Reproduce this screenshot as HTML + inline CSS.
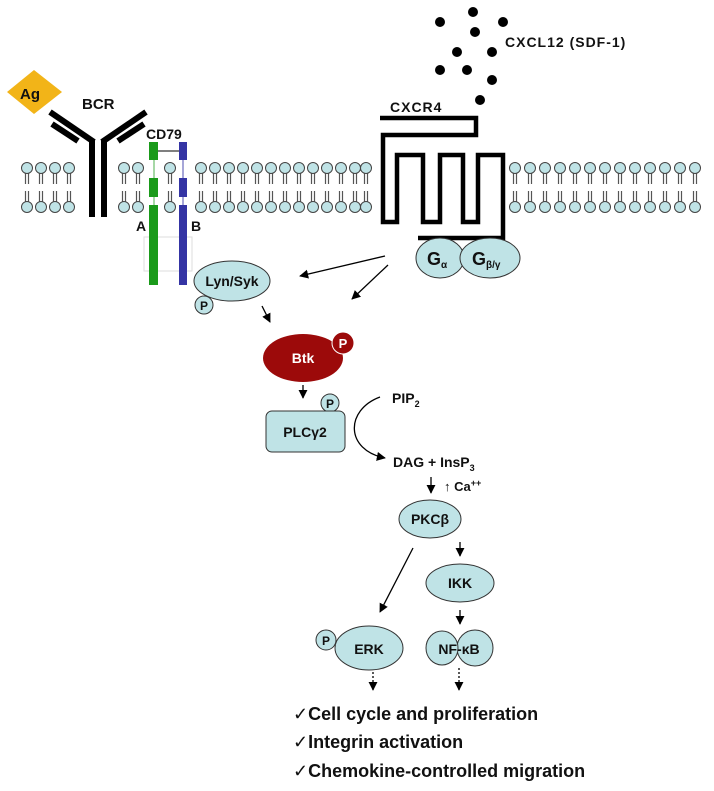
<!DOCTYPE html>
<html><head><meta charset="utf-8"><style>
html,body{margin:0;padding:0;background:#fff}
svg{display:block}
text{font-family:"Liberation Sans",Arial,sans-serif;font-weight:bold;fill:#111}
</style></head><body>
<svg width="714" height="791" viewBox="0 0 714 791" xmlns="http://www.w3.org/2000/svg">
<defs>
<marker id="ah" viewBox="0 0 10 10" refX="9" refY="5" markerWidth="7" markerHeight="7" orient="auto"><path d="M0,0L10,5L0,10z" fill="#000"/></marker>
<g id="lipT"><line x1="-1.5" y1="173" x2="-1.5" y2="184" stroke="#555" stroke-width="1.2"/><line x1="1.5" y1="173" x2="1.5" y2="184" stroke="#555" stroke-width="1.2"/><circle cx="0" cy="168" r="5.5" fill="#bfe3e6" stroke="#444" stroke-width="1"/></g>
<g id="lipB"><line x1="-1.5" y1="191" x2="-1.5" y2="202" stroke="#555" stroke-width="1.2"/><line x1="1.5" y1="191" x2="1.5" y2="202" stroke="#555" stroke-width="1.2"/><circle cx="0" cy="207" r="5.5" fill="#bfe3e6" stroke="#444" stroke-width="1"/></g>
</defs>
<!-- lipids -->
<g>
<use href="#lipT" x="27"/><use href="#lipB" x="27"/>
<use href="#lipT" x="41"/><use href="#lipB" x="41"/>
<use href="#lipT" x="55"/><use href="#lipB" x="55"/>
<use href="#lipT" x="69"/><use href="#lipB" x="69"/>
<use href="#lipT" x="124"/><use href="#lipB" x="124"/>
<use href="#lipT" x="138"/><use href="#lipB" x="138"/>
<use href="#lipT" x="170"/><use href="#lipB" x="170"/>
<use href="#lipT" x="201"/><use href="#lipB" x="201"/>
<use href="#lipT" x="215"/><use href="#lipB" x="215"/>
<use href="#lipT" x="229"/><use href="#lipB" x="229"/>
<use href="#lipT" x="243"/><use href="#lipB" x="243"/>
<use href="#lipT" x="257"/><use href="#lipB" x="257"/>
<use href="#lipT" x="271"/><use href="#lipB" x="271"/>
<use href="#lipT" x="285"/><use href="#lipB" x="285"/>
<use href="#lipT" x="299"/><use href="#lipB" x="299"/>
<use href="#lipT" x="313"/><use href="#lipB" x="313"/>
<use href="#lipT" x="327"/><use href="#lipB" x="327"/>
<use href="#lipT" x="341"/><use href="#lipB" x="341"/>
<use href="#lipT" x="355"/><use href="#lipB" x="355"/>
<use href="#lipT" x="366"/><use href="#lipB" x="366"/>
<use href="#lipT" x="515"/><use href="#lipB" x="515"/>
<use href="#lipT" x="530"/><use href="#lipB" x="530"/>
<use href="#lipT" x="545"/><use href="#lipB" x="545"/>
<use href="#lipT" x="560"/><use href="#lipB" x="560"/>
<use href="#lipT" x="575"/><use href="#lipB" x="575"/>
<use href="#lipT" x="590"/><use href="#lipB" x="590"/>
<use href="#lipT" x="605"/><use href="#lipB" x="605"/>
<use href="#lipT" x="620"/><use href="#lipB" x="620"/>
<use href="#lipT" x="635"/><use href="#lipB" x="635"/>
<use href="#lipT" x="650"/><use href="#lipB" x="650"/>
<use href="#lipT" x="665"/><use href="#lipB" x="665"/>
<use href="#lipT" x="680"/><use href="#lipB" x="680"/>
<use href="#lipT" x="695"/><use href="#lipB" x="695"/>
</g>
<!-- Ag -->
<polygon points="34,70 62,92 34,114 7,92" fill="#f2b418"/>
<text x="20" y="99" font-size="15">Ag</text>
<text x="82" y="109" font-size="15">BCR</text>
<!-- BCR Y -->
<g stroke="#000" stroke-width="6" fill="none">
<line x1="92" y1="140" x2="92" y2="217"/><line x1="104" y1="140" x2="104" y2="217"/>
<polyline points="50,112 94,142"/><polyline points="146,112 102,142"/>
<line x1="52" y1="124" x2="78" y2="141"/><line x1="144" y1="124" x2="118" y2="141"/>
</g>
<!-- CD79 -->
<text x="146" y="139" font-size="14">CD79</text>
<rect x="144" y="237" width="48" height="34" fill="none" stroke="#ddd"/>
<line x1="154" y1="142" x2="154" y2="285" stroke="#8c8" stroke-width="1.5"/>
<line x1="183" y1="142" x2="183" y2="285" stroke="#88c" stroke-width="1.5"/>
<line x1="158" y1="151" x2="179" y2="151" stroke="#555" stroke-width="1.5"/>
<rect x="149" y="142" width="9" height="18" fill="#1a9a1a"/>
<rect x="149" y="178" width="9" height="19" fill="#1a9a1a"/>
<rect x="149" y="205" width="9" height="80" fill="#1a9a1a"/>
<rect x="179" y="142" width="8" height="18" fill="#3434a4"/>
<rect x="179" y="178" width="8" height="19" fill="#3434a4"/>
<rect x="179" y="205" width="8" height="80" fill="#3434a4"/>
<text x="136" y="231" font-size="14">A</text>
<text x="191" y="231" font-size="14">B</text>
<!-- Lyn/Syk -->
<ellipse cx="232" cy="281" rx="38" ry="20" fill="#bfe3e6" stroke="#333"/>
<text x="232" y="286" font-size="14" text-anchor="middle">Lyn/Syk</text>
<circle cx="204" cy="305" r="9" fill="#bfe3e6" stroke="#333"/>
<text x="204" y="310" font-size="12" text-anchor="middle">P</text>
<!-- CXCL12 dots -->
<g fill="#000">
<circle cx="440" cy="22" r="5"/><circle cx="473" cy="12" r="5"/><circle cx="503" cy="22" r="5"/><circle cx="475" cy="32" r="5"/><circle cx="457" cy="52" r="5"/><circle cx="492" cy="52" r="5"/><circle cx="440" cy="70" r="5"/><circle cx="467" cy="70" r="5"/><circle cx="492" cy="80" r="5"/><circle cx="480" cy="100" r="5"/>
</g>
<text x="505" y="47" font-size="14" letter-spacing="1">CXCL12 (SDF-1)</text>
<text x="390" y="112" font-size="14" letter-spacing="1">CXCR4</text>
<path d="M380,118 H476 V135 H383 V222 H397 V155 H423 V222 H440 V155 H463 V222 H478 V155 H503 V238 H418" fill="none" stroke="#000" stroke-width="4.5"/>
<ellipse cx="440" cy="258" rx="24" ry="20" fill="#bfe3e6" stroke="#333"/>
<ellipse cx="490" cy="258" rx="30" ry="20" fill="#bfe3e6" stroke="#333"/>
<text x="427" y="265" font-size="18">G<tspan font-size="10" dy="3">α</tspan></text>
<text x="472" y="265" font-size="18">G<tspan font-size="10" dy="3">β/γ</tspan></text>
<!-- arrows -->
<g stroke="#000" stroke-width="1.3" fill="none" marker-end="url(#ah)">
<line x1="385" y1="256" x2="300" y2="276"/>
<line x1="388" y1="265" x2="352" y2="299"/>
<line x1="262" y1="306" x2="270" y2="322"/>
<line x1="303" y1="385" x2="303" y2="398"/>
<path d="M380,397 C345,410 345,450 385,458"/>
<line x1="431" y1="477" x2="431" y2="493"/>
<line x1="460" y1="542" x2="460" y2="556"/>
<line x1="460" y1="610" x2="460" y2="624"/>
<line x1="413" y1="548" x2="380" y2="612"/>
<line x1="373" y1="668" x2="373" y2="690" stroke-dasharray="2,2"/>
<line x1="459" y1="668" x2="459" y2="690" stroke-dasharray="2,2"/>
</g>
<!-- Btk -->
<ellipse cx="303" cy="358" rx="40" ry="24" fill="#9c0a0a"/>
<text x="303" y="363" font-size="14" text-anchor="middle" style="fill:#fff">Btk</text>
<circle cx="343" cy="343" r="11" fill="#9c0a0a" stroke="#fff" stroke-width="1"/>
<text x="343" y="348" font-size="13" text-anchor="middle" style="fill:#fff">P</text>
<!-- PLC -->
<circle cx="330" cy="403" r="9" fill="#bfe3e6" stroke="#333"/>
<text x="330" y="408" font-size="12" text-anchor="middle">P</text>
<rect x="266" y="411" width="79" height="41" rx="6" fill="#bfe3e6" stroke="#333"/>
<text x="305" y="437" font-size="14" text-anchor="middle">PLCγ2</text>
<text x="392" y="403" font-size="14">PIP<tspan font-size="9" dy="4">2</tspan></text>
<text x="393" y="467" font-size="14">DAG + InsP<tspan font-size="9" dy="4">3</tspan></text>
<text x="444" y="491" font-size="13"><tspan style="font-weight:normal">↑</tspan> Ca<tspan font-size="9" dy="-5">++</tspan></text>
<!-- PKC -->
<ellipse cx="430" cy="519" rx="31" ry="19" fill="#bfe3e6" stroke="#333"/>
<text x="430" y="524" font-size="14" text-anchor="middle">PKCβ</text>
<ellipse cx="460" cy="583" rx="34" ry="19" fill="#bfe3e6" stroke="#333"/>
<text x="460" y="588" font-size="14" text-anchor="middle">IKK</text>
<!-- ERK -->
<ellipse cx="369" cy="648" rx="34" ry="22" fill="#bfe3e6" stroke="#333"/>
<text x="369" y="654" font-size="14" text-anchor="middle">ERK</text>
<circle cx="326" cy="640" r="10" fill="#bfe3e6" stroke="#333"/>
<text x="326" y="645" font-size="12" text-anchor="middle">P</text>
<!-- NFkB -->
<ellipse cx="475" cy="648" rx="18" ry="18" fill="#bfe3e6" stroke="#333"/>
<ellipse cx="442" cy="648" rx="16" ry="17" fill="#bfe3e6" stroke="#333"/>
<text x="459" y="654" font-size="14" text-anchor="middle">NF-κB</text>
<!-- outcomes -->
<text x="293" y="720" font-size="18"><tspan style="font-weight:normal">✓</tspan>Cell cycle and proliferation</text>
<text x="293" y="748" font-size="18"><tspan style="font-weight:normal">✓</tspan>Integrin activation</text>
<text x="293" y="777" font-size="18"><tspan style="font-weight:normal">✓</tspan>Chemokine-controlled migration</text>
</svg>
</body></html>
